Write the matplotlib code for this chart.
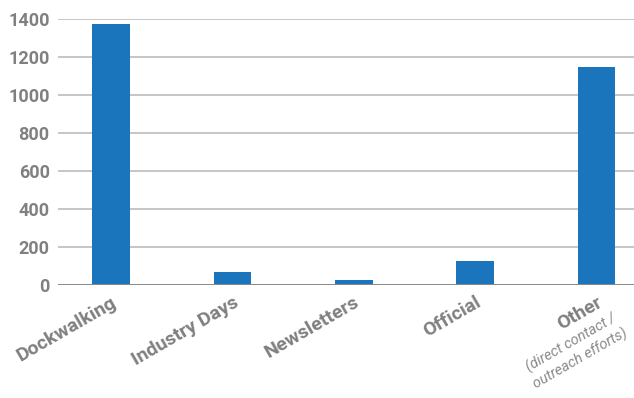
"""Bar chart of outreach channels."""

import matplotlib

matplotlib.use("Agg")
import matplotlib.pyplot as plt


CATEGORIES = ["Dockwalking", "Industry Days", "Newsletters", "Official", "Other"]
VALUES = [1375, 70, 28, 128, 1150]
Y_TICKS = [0, 200, 400, 600, 800, 1000, 1200, 1400]
OTHER_NOTE = "(direct contact /\noutreach efforts)"

BAR_COLOR = "#1b75bc"
TEXT_COLOR = "#808080"
GRID_COLOR = "#bcbcbc"
ANGLE = 30

plt.rcParams["font.family"] = ["Roboto", "DejaVu Sans"]

fig = plt.figure(figsize=(6.34, 3.98), dpi=100)
ax = fig.add_axes([58 / 634, 1 - 285 / 398, 576 / 634, 266 / 398])

positions = list(range(len(CATEGORIES)))
ax.bar(positions, VALUES, width=0.31, color=BAR_COLOR, zorder=3)

ax.set_xlim(-0.437, 4.31)
ax.set_ylim(0, 1400)
ax.set_yticks(Y_TICKS)
ax.set_yticklabels([str(v) for v in Y_TICKS])
ax.tick_params(axis="y", length=0, pad=6, labelsize=13, labelcolor=TEXT_COLOR)
for label in ax.get_yticklabels():
    label.set_fontweight("bold")

ax.set_xticks(positions)
ax.set_xticklabels(CATEGORIES, rotation=ANGLE, ha="right", rotation_mode="anchor")
ax.tick_params(axis="x", length=0, pad=6, labelsize=14, labelcolor=TEXT_COLOR)
for label in ax.get_xticklabels():
    label.set_fontweight("bold")

ax.grid(axis="y", color=GRID_COLOR, linewidth=1.2, zorder=0)
ax.axhline(0, color="#8a8a8a", linewidth=1.4, zorder=4)
for spine in ax.spines.values():
    spine.set_visible(False)

# small italic note under the "Other" label, same slant
other_label = ax.get_xticklabels()[-1]
ax.annotate(
    OTHER_NOTE,
    xy=(0.5, 0.5), xycoords=other_label,
    xytext=(-3, -27), textcoords="offset points",
    ha="center", va="center", multialignment="center",
    rotation=ANGLE, rotation_mode="anchor",
    fontsize=10.5, fontstyle="italic", color="#8a8a8a", linespacing=1.2,
)

fig.savefig("out.png", dpi=100)
plt.close(fig)
